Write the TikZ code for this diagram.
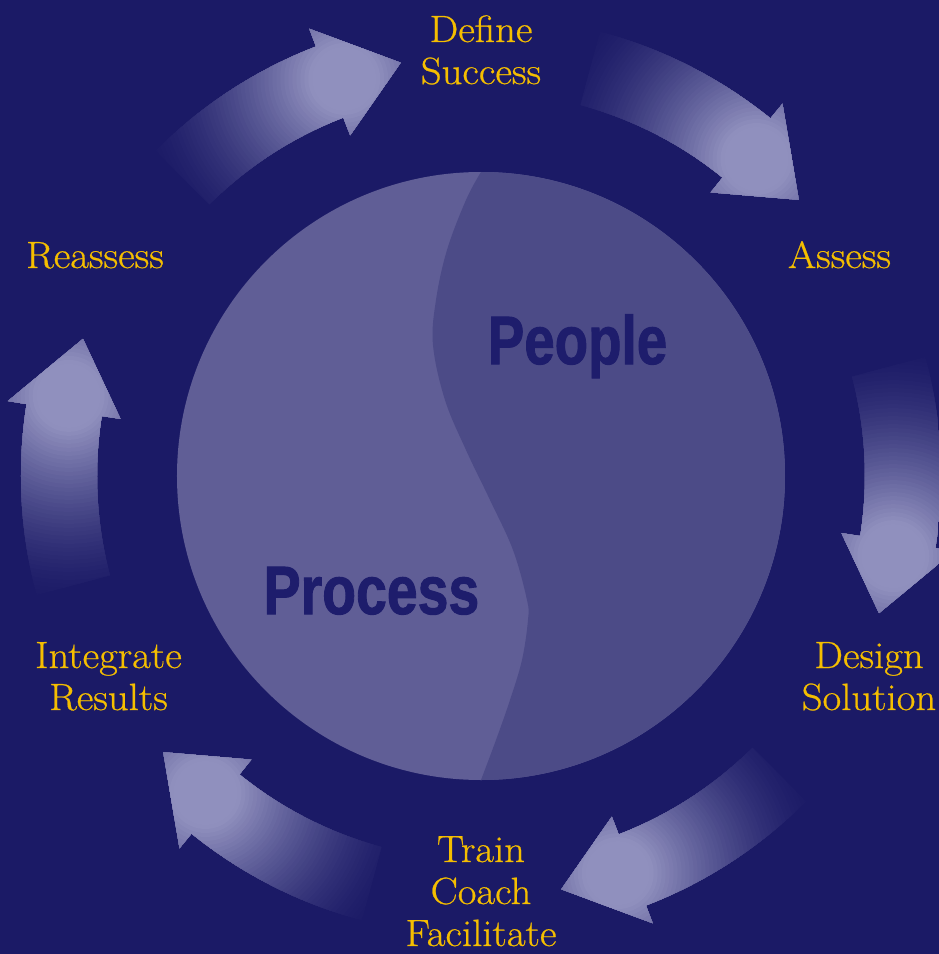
\documentclass[tikz,border=0pt]{standalone}
\usepackage{fontspec}
\usepackage{graphicx}
\newfontfamily\headfont{Liberation Sans}[FakeBold=1.5]
\newfontfamily\stagefont{Latin Modern Roman}[FakeBold=0.6, FakeStretch=1.07]
\definecolor{navy}{RGB}{27,26,102}
\definecolor{lav}{RGB}{144,144,190}
\definecolor{leftc}{RGB}{96,94,150}
\definecolor{rightc}{RGB}{76,75,135}
\definecolor{gold}{RGB}{245,190,0}
\definecolor{inkc}{RGB}{30,29,108}
\tikzset{
  stage/.style={font=\stagefont\fontsize{38}{42}\selectfont, text=gold, align=center, inner sep=0pt, anchor=base},
  theme/.style={font=\headfont\bfseries\fontsize{68.4}{70}\selectfont, text=inkc, inner sep=0pt, anchor=base},
}
\begin{document}
\begin{tikzpicture}[x=1pt,y=1pt]
\useasboundingbox (-481,-478) rectangle (458,476);
\fill[navy] (-481,-478) rectangle (458,476);

% six curved arrows, clockwise, each glowing towards its head
\begin{scope}
\clip (-481,-478) rectangle (458,476);
\foreach \c in {0,60,120,180,240,300}{
  \begin{scope}
    \clip ({\c+15}:460) arc[start angle=\c+15, end angle=\c-9, radius=460]
      -- ({\c-9}:479) -- ({\c-19}:421) -- ({\c-9}:365) -- ({\c-9}:384)
      arc[start angle=\c-9, end angle=\c+15, radius=384] -- cycle;
    \foreach \k in {0,...,54}{
      \pgfmathsetmacro\rr{220-4*\k}
      \pgfmathsetmacro\tt{min(1,max(0.001,1-(\rr-35)/175))}
      \pgfmathsetmacro\pp{100*(\tt)^1.5}
      \fill[lav!\pp!navy] ({\c-11}:420) circle[radius=\rr];
    }
  \end{scope}
}
\end{scope}

% central disc split by an S-curve
\fill[leftc] (0,0) circle[radius=304];
\fill[rightc] plot[smooth, tension=0.6] coordinates {(0,304) (-15,276) (-34,226) (-45,176) (-48,131) (-36,76) (-15,26) (9,-24) (32,-74) (46,-124) (47,-144) (41,-184) (29,-224) (15,-264) (0,-304)}
  arc[start angle=-90, end angle=90, radius=304] -- cycle;

\node[theme] (people) at (96.5,112) {\scalebox{0.8}[1]{People}};
\node[theme] (process) at (-109.5,-138) {\scalebox{0.81}[1]{Process}};

% stage labels (base anchor sits on the last line)
\node[stage] (define) at (0,392) {Define\\Success};
\node[stage] (assess) at (358.5,208) {Assess};
\node[stage] (design) at (388,-234) {Design\\Solution};
\node[stage] (train) at (0,-470) {Train\\Coach\\Facilitate};
\node[stage] (integrate) at (-372.5,-234) {Integrate\\Results};
\node[stage] (reassess) at (-386,208) {Reassess};
\end{tikzpicture}
\end{document}
